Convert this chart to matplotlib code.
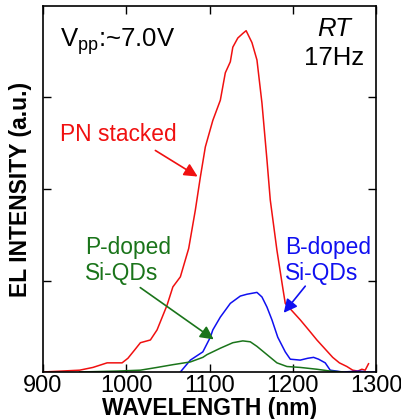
import matplotlib
matplotlib.use("Agg")
import matplotlib.pyplot as plt
import numpy as np

plt.rcParams['font.family'] = ['Liberation Sans', 'DejaVu Sans']

# Data
pn_wl = [900, 944, 960, 977, 995, 1002, 1010, 1017, 1029, 1037, 1049, 1056, 1065, 1075,
         1083, 1089, 1095, 1104, 1113, 1119, 1125, 1128, 1134, 1140, 1144, 1151, 1157,
         1163, 1169, 1173, 1181, 1188, 1191, 1200, 1209, 1220, 1229, 1240, 1248, 1256,
         1265, 1272, 1278, 1283, 1287, 1291]
pn_val = [0.0, 0.02, 0.05, 0.10, 0.10, 0.15, 0.24, 0.32, 0.35, 0.46, 0.73, 0.93, 1.04, 1.35,
          1.77, 2.13, 2.46, 2.75, 2.97, 3.27, 3.39, 3.55, 3.65, 3.70, 3.73, 3.60, 3.41,
          2.94, 2.32, 1.88, 1.33, 0.92, 0.75, 0.66, 0.57, 0.45, 0.35, 0.24, 0.16, 0.10,
          0.06, 0.02, 0.01, 0.03, 0.02, 0.09]

b_wl = [1065, 1077, 1092, 1101, 1104, 1113, 1125, 1137, 1145, 1157, 1163, 1169, 1175,
        1182, 1191, 1197, 1209, 1218, 1225, 1231, 1239, 1245, 1260, 1280, 1290, 1300]
b_val = [0.0, 0.13, 0.22, 0.38, 0.46, 0.60, 0.75, 0.83, 0.85, 0.87, 0.82, 0.71, 0.57,
         0.38, 0.22, 0.14, 0.13, 0.15, 0.16, 0.14, 0.10, 0.02, 0.0, 0.01, 0.0, 0.0]

p_wl = [944, 989, 1017, 1037, 1056, 1077, 1092, 1097, 1113, 1128, 1140, 1149, 1157,
        1169, 1181, 1193, 1209, 1229, 1245, 1260]
p_val = [0.0, 0.01, 0.02, 0.05, 0.08, 0.11, 0.16, 0.19, 0.26, 0.32, 0.34, 0.33, 0.28,
         0.19, 0.10, 0.06, 0.05, 0.03, 0.01, 0.0]

x_ticks = [900, 1000, 1100, 1200, 1300]
x_ticklabels = ["900", "1000", "1100", "1200", "1300"]
y_ticks = [1, 2, 3]

RED = '#f01010'
BLUE = '#1010f0'
GREEN = '#1a741a'

fig = plt.figure(figsize=(4.01, 4.19), dpi=100)
ax = fig.add_axes([43/401, 1 - 372/419, 333/401, 366/419])

ax.plot(pn_wl, pn_val, color=RED, lw=1.1)
ax.plot(b_wl, b_val, color=BLUE, lw=1.1)
ax.plot(p_wl, p_val, color=GREEN, lw=1.1)

ax.set_xlim(900, 1300)
ax.set_ylim(0, 4)
ax.set_xticks(x_ticks)
ax.set_xticklabels(x_ticklabels, fontsize=17)
ax.set_yticks(y_ticks)
ax.set_yticklabels([])
ax.tick_params(direction='in', top=True, right=True, length=6, width=1, pad=2)
for s in ax.spines.values():
    s.set_linewidth(1.2)

ax.set_xlabel("WAVELENGTH (nm)", fontsize=16.5, fontweight='bold', labelpad=0.5)
ax.set_ylabel("EL INTENSITY (a.u.)", fontsize=16.5, fontweight='bold', labelpad=6)

ax.text(0.051, 0.888, r"V$_{\mathregular{pp}}$:~7.0V", transform=ax.transAxes,
        fontsize=18.5, ha='left', va='baseline')
ax.text(0.874, 0.918, "RT", transform=ax.transAxes, fontsize=18.5, style='italic',
        ha='center', va='baseline')
ax.text(0.874, 0.839, "17Hz", transform=ax.transAxes, fontsize=18.5,
        ha='center', va='baseline')

def px(xp, yp):
    return ((xp - 43) / 333, (372 - yp) / 366)

ax.text(*px(118, 141), "PN stacked", transform=ax.transAxes, fontsize=16.4,
        color=RED, ha='center', va='baseline')
ax.annotate("", xy=px(200, 178), xytext=px(153, 149), xycoords='axes fraction',
            textcoords='axes fraction',
            arrowprops=dict(arrowstyle='-|>', color=RED, lw=1.2, mutation_scale=20))

ax.text(*px(85, 280), "P-doped\nSi-QDs", transform=ax.transAxes, fontsize=16.4,
        color=GREEN, ha='left', va='baseline', linespacing=1.18)
ax.annotate("", xy=px(216, 341), xytext=px(138, 286), xycoords='axes fraction',
            textcoords='axes fraction',
            arrowprops=dict(arrowstyle='-|>', color=GREEN, lw=1.2, mutation_scale=20))

ax.text(*px(285, 280), "B-doped\nSi-QDs", transform=ax.transAxes, fontsize=16.4,
        color=BLUE, ha='left', va='baseline', linespacing=1.18)
ax.annotate("", xy=px(282, 315), xytext=px(307, 284), xycoords='axes fraction',
            textcoords='axes fraction',
            arrowprops=dict(arrowstyle='-|>', color=BLUE, lw=1.2, mutation_scale=20))

fig.savefig("out.png", dpi=100)
